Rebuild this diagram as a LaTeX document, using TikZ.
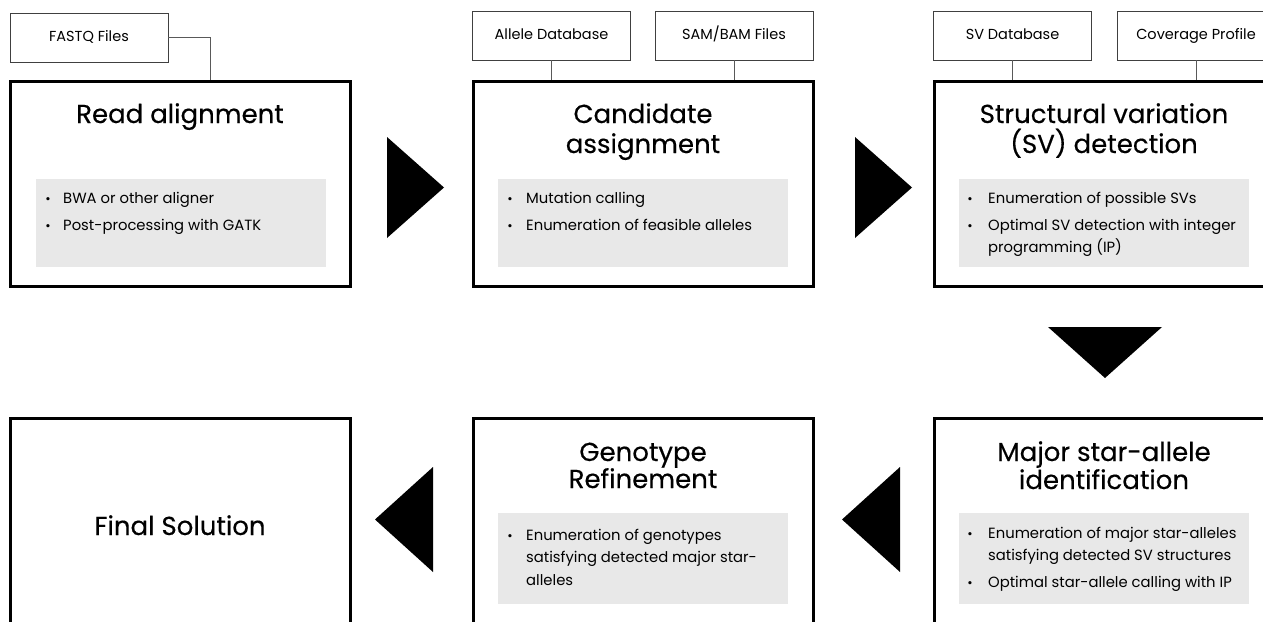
\documentclass[tikz,border=0pt]{standalone}
\usepackage{fontspec}
\setmainfont{Poppins}
\newfontfamily\ttlfont[FakeBold=0.35]{Poppins}
\usetikzlibrary{calc}
\begin{document}
\begin{tikzpicture}[x=1pt,y=-1pt,
  stage/.style={draw=black, line width=3pt, minimum width=340pt, minimum height=205pt, inner sep=0pt},
  inbox/.style={draw=black!75, line width=0.9pt, minimum width=158pt, minimum height=49pt, inner sep=0pt, text height=10.5pt, text depth=3pt, font=\fontsize{14.5}{16}\selectfont},
  panel/.style={fill=black!9, minimum width=290pt, inner sep=0pt},
  ttl/.style={anchor=base, inner sep=0pt, font=\ttlfont\fontsize{26}{30}\selectfont},
  item/.style={anchor=base west, inner sep=0pt, font=\fontsize{14.8}{16}\selectfont},
  dot/.style={anchor=base, inner sep=0pt, font=\fontsize{13}{15}\selectfont},
  link/.style={draw=black!65, line width=0.9pt},
  tri/.style={fill=black}
]
\useasboundingbox (0,0) rectangle (1263,621);
\clip (0,0) rectangle (1263,621);

% stage boxes
\node[stage] (s1) at (180,184) {};
\node[stage] (s2) at (643,184) {};
\node[stage] (s3) at (1104,184) {};
\node[stage] (s4) at (180,520.5) {};
\node[stage] (s5) at (643,520.5) {};
\node[stage] (s6) at (1104,520.5) {};

% panels
\node[panel, minimum height=88pt] (p1) at (180.5,223) {};
\node[panel, minimum height=88pt] (p2) at (642.5,223) {};
\node[panel, minimum height=88pt] (p3) at (1104,223) {};
\node[panel, minimum height=91pt] (p5) at (642.5,558.5) {};
\node[panel, minimum height=91pt] (p6) at (1104,558.5) {};

% input boxes
\node[inbox] (fq) at (89,37.5) {FASTQ Files};
\node[inbox] (ad) at (551.5,35.5) {Allele Database};
\node[inbox] (sb) at (734,35.5) {SAM/BAM Files};
\node[inbox] (sd) at (1012.5,35.5) {SV Database};
\node[inbox] (cp) at (1196,35.5) {Coverage Profile};

% connectors
\draw[link] (fq.east) -| ($(s1.north west)+(202,0)$);
\draw[link] (ad) -- (ad |- s2.north);
\draw[link] (sb) -- (sb |- s2.north);
\draw[link] (sd) -- (sd |- s3.north);
\draw[link] (cp) -- (cp |- s3.north);

% titles
\node[ttl] (t1) at (180,123) {Read alignment};
\node[ttl] (t2a) at (643,123) {Candidate};
\node[ttl] (t2b) at (643,153) {assignment};
\node[ttl] (t3a) at (1104,123) {Structural variation};
\node[ttl] (t3b) at (1104,153) {(SV) detection};
\node[ttl] (t6a) at (1104,461) {Major star-allele};
\node[ttl] (t6b) at (1104,489) {identification};
\node[ttl] (t5a) at (643,461) {Genotype};
\node[ttl] (t5b) at (643,488) {Refinement};
\node[ttl] (t4) at (180,535) {Final Solution};

% items box 1
\node[dot] (d11) at (48,203) {•};
\node[item] (i11) at (63,203) {BWA or other aligner};
\node[dot] (d12) at (48,230) {•};
\node[item] (i12) at (63,230) {Post-processing with GATK};
% items box 2
\node[dot] (d21) at (510,203) {•};
\node[item] (i21) at (526,203) {Mutation calling};
\node[dot] (d22) at (510,230) {•};
\node[item] (i22) at (526,230) {Enumeration of feasible alleles};
% items box 3
\node[dot] (d31) at (970,203) {•};
\node[item] (i31) at (988,203) {Enumeration of possible SVs};
\node[dot] (d32) at (970,230) {•};
\node[item] (i32) at (988,230) {Optimal SV detection with integer};
\node[item] (i33) at (988,252) {programming (IP)};
% items box 6
\node[dot] (d61) at (970,538) {•};
\node[item] (i61) at (988,538) {Enumeration of major star-alleles};
\node[item] (i62) at (988,560) {satisfying detected SV structures};
\node[dot] (d63) at (970,587) {•};
\node[item] (i63) at (988,587) {Optimal star-allele calling with IP};
% items box 5
\node[dot] (d51) at (510,540) {•};
\node[item] (i51) at (526,540) {Enumeration of genotypes};
\node[item] (i52) at (526,562) {satisfying detected major star-};
\node[item] (i53) at (526,585) {alleles};

% flow triangles
\fill[tri] (387,137) -- (387,238) -- (444,187.5) -- cycle;
\fill[tri] (855,137) -- (855,238) -- (912,187.5) -- cycle;
\fill[tri] (1048,327) -- (1162,327) -- (1105,378) -- cycle;
\fill[tri] (900,467) -- (900,572) -- (842,519.5) -- cycle;
\fill[tri] (433,467) -- (433,572) -- (375,519.5) -- cycle;
\end{tikzpicture}
\end{document}
